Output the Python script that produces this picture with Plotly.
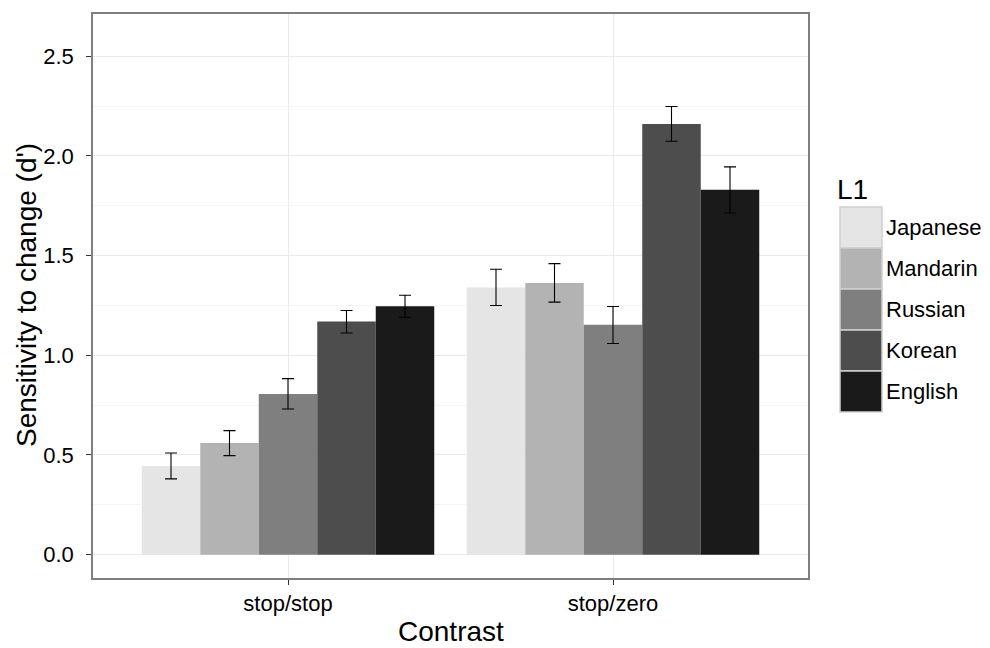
import plotly.graph_objects as go

categories = ["stop/stop", "stop/zero"]
groups = ["Japanese", "Mandarin", "Russian", "Korean", "English"]
colors = ["#e5e5e5", "#b3b3b3", "#7f7f7f", "#4d4d4d", "#1a1a1a"]

means = {
    "Japanese": [0.445, 1.340],
    "Mandarin": [0.560, 1.363],
    "Russian": [0.806, 1.153],
    "Korean": [1.170, 2.160],
    "English": [1.246, 1.830],
}
err_hi = {
    "Japanese": [0.065, 0.092],
    "Mandarin": [0.062, 0.097],
    "Russian": [0.077, 0.092],
    "Korean": [0.055, 0.088],
    "English": [0.055, 0.115],
}
err_lo = {
    "Japanese": [0.065, 0.090],
    "Mandarin": [0.063, 0.096],
    "Russian": [0.075, 0.094],
    "Korean": [0.058, 0.086],
    "English": [0.055, 0.116],
}
y_ticks = [0, 0.5, 1.0, 1.5, 2.0, 2.5]
y_ticklabels = ["0.0", "0.5", "1.0", "1.5", "2.0", "2.5"]
y_minor = [0.25, 0.75, 1.25, 1.75, 2.25]

W, H = 990, 648
L, R, T, B = 93, 182, 14, 70
FONT = "Liberation Sans, Arial, sans-serif"
TICK_SIZE = 22
TITLE_SIZE = 28

fig = go.Figure()
for g, c in zip(groups, colors):
    fig.add_trace(go.Bar(
        x=categories, y=means[g], name=g,
        marker=dict(color=c, line=dict(width=0)),
        error_y=dict(type="data", symmetric=False, array=err_hi[g],
                     arrayminus=err_lo[g], color="black", thickness=1.1, width=6),
        showlegend=False,
    ))

pw = W - L - R
ph = H - T - B
def px_x(x):
    return (x - L) / pw
def px_y(y):
    return 1 - (y - T) / ph

# ggplot-like legend drawn with shapes + text
key_x0, key_x1 = 840, 882
key_top, key_h = 207, 41
shapes = []
annotations = []
for i, (g, c) in enumerate(zip(groups, colors)):
    y0 = key_top + i * key_h
    y1 = y0 + key_h
    shapes.append(dict(type="rect", xref="paper", yref="paper",
                       x0=px_x(key_x0), x1=px_x(key_x1), y0=px_y(y1), y1=px_y(y0),
                       fillcolor=c, line=dict(color="#d0d0d0", width=1.5), layer="above"))
    annotations.append(dict(text=g, xref="paper", yref="paper", x=px_x(key_x1 + 2),
                            y=px_y((y0 + y1) / 2), xanchor="left", yanchor="middle",
                            showarrow=False,
                            font=dict(family=FONT, size=TICK_SIZE, color="black")))
annotations.append(dict(text="L1", xref="paper", yref="paper", x=px_x(835), y=px_y(189.5),
                        xanchor="left", yanchor="middle", showarrow=False,
                        font=dict(family=FONT, size=TITLE_SIZE, color="black")))
# axis titles
annotations.append(dict(text="Contrast", xref="paper", yref="paper", x=px_x(450.5),
                        y=px_y(631.5), xanchor="center", yanchor="middle", showarrow=False,
                        font=dict(family=FONT, size=TITLE_SIZE, color="black")))
annotations.append(dict(text="Sensitivity to change (d')", xref="paper", yref="paper",
                        x=px_x(26), y=px_y(295), xanchor="center", yanchor="middle",
                        textangle=-90, showarrow=False,
                        font=dict(family=FONT, size=TITLE_SIZE, color="black")))

fig.update_layout(
    width=W, height=H,
    margin=dict(l=L, r=R, t=T, b=B),
    paper_bgcolor="white", plot_bgcolor="white",
    barmode="group", bargap=0.1, bargroupgap=0,
    font=dict(family=FONT, color="black"),
    shapes=shapes, annotations=annotations,
    showlegend=False,
)
fig.update_xaxes(
    range=[-0.6, 1.6], showgrid=True, gridcolor="#ebebeb", gridwidth=1,
    showline=True, mirror=True, linecolor="#7f7f7f", linewidth=1.5,
    ticks="outside", ticklen=5, tickcolor="#333333", tickwidth=1,
    tickfont=dict(size=TICK_SIZE, color="black", family=FONT),
    zeroline=False, automargin=False,
)
fig.update_yaxes(
    range=[-0.117, 2.712], tickvals=y_ticks, ticktext=y_ticklabels,
    showgrid=True, gridcolor="#ebebeb", gridwidth=1,
    minor=dict(tickvals=y_minor, showgrid=True, gridcolor="#f5f5f5", gridwidth=1, ticks=""),
    showline=True, mirror=True, linecolor="#7f7f7f", linewidth=1.5,
    ticks="outside", ticklen=5, tickcolor="#333333", tickwidth=1,
    tickfont=dict(size=TICK_SIZE, color="black", family=FONT),
    ticklabelstandoff=8,
    zeroline=False, automargin=False,
)

fig.write_html("out.html")
